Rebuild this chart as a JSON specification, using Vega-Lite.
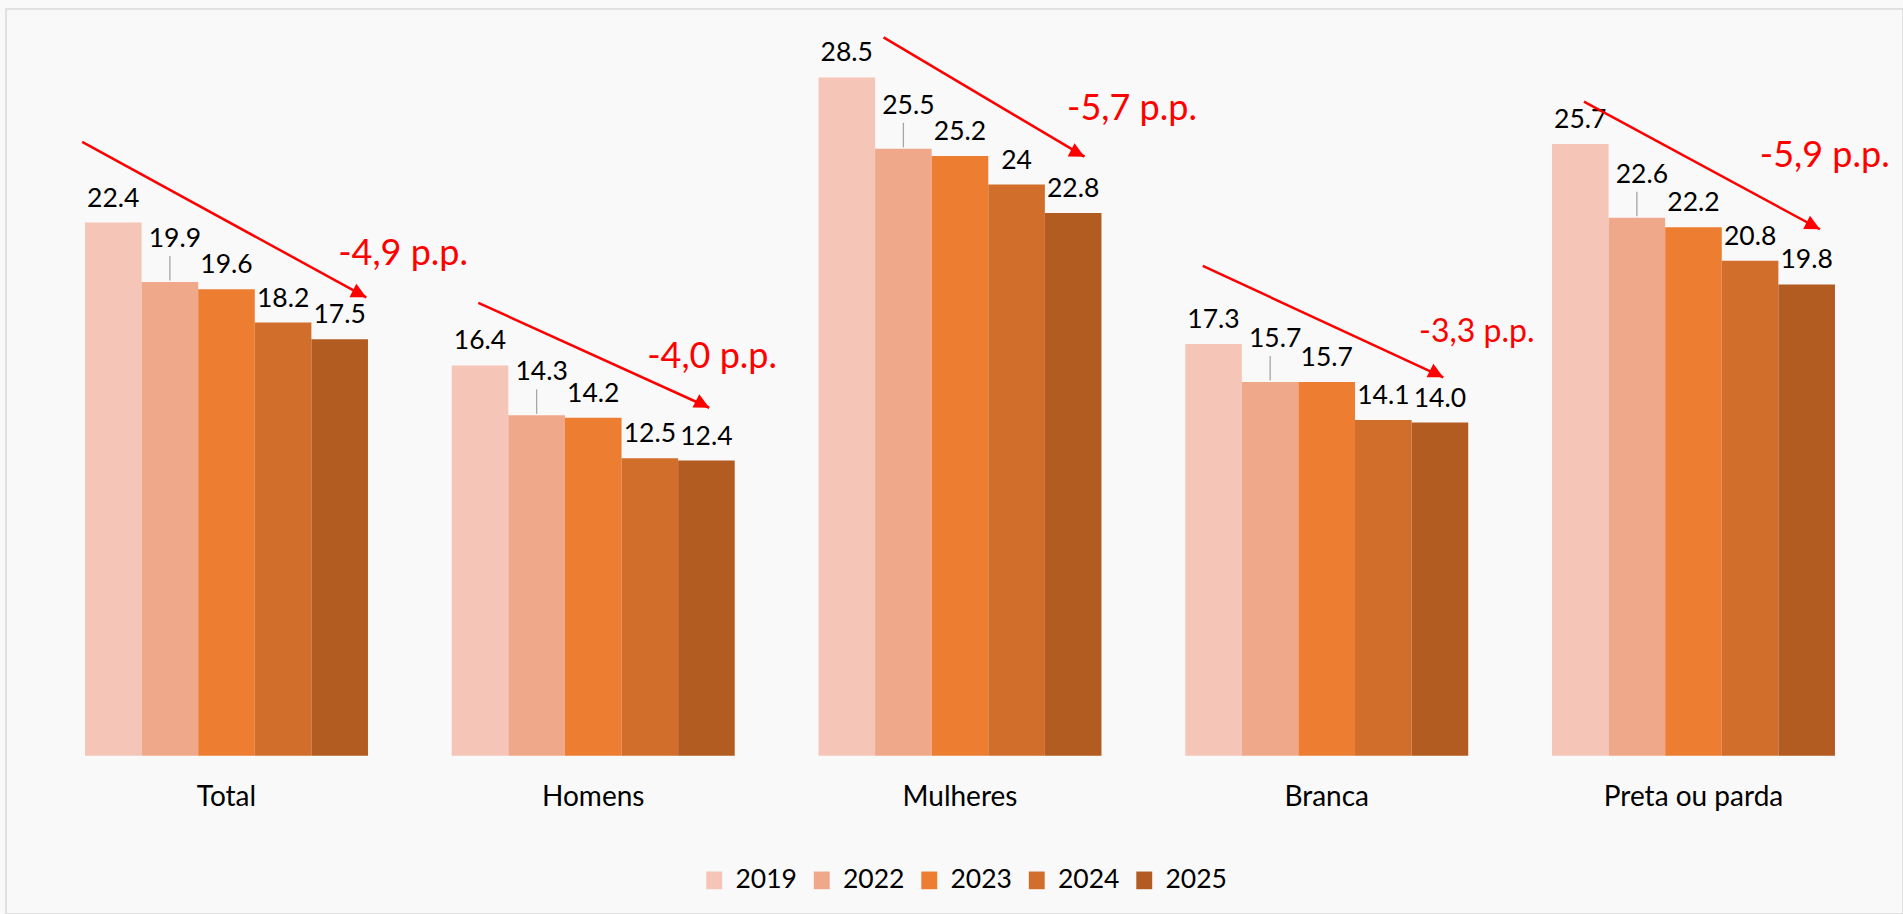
{
  "$schema": "https://vega.github.io/schema/vega-lite/v6.json",
  "width": 1897,
  "height": 905,
  "autosize": {"type": "none"},
  "padding": {"left": 6, "top": 9, "right": 0, "bottom": 0},
  "background": "#f9f9f9",
  "config": {
    "view": {"stroke": "#d9d9d9", "strokeWidth": 1.5},
    "font": "Lato",
    "text": {"font": "Lato"},
    "axis": {"labelFont": "Lato"},
    "legend": {"labelFont": "Lato"}
  },
  "datasets": {
    "bars": [
      {"cat": "Total", "year": "2019", "value": 22.4, "label": "22.4"},
      {"cat": "Total", "year": "2022", "value": 19.9, "label": "19.9"},
      {"cat": "Total", "year": "2023", "value": 19.6, "label": "19.6"},
      {"cat": "Total", "year": "2024", "value": 18.2, "label": "18.2"},
      {"cat": "Total", "year": "2025", "value": 17.5, "label": "17.5"},
      {"cat": "Homens", "year": "2019", "value": 16.4, "label": "16.4"},
      {"cat": "Homens", "year": "2022", "value": 14.3, "label": "14.3"},
      {"cat": "Homens", "year": "2023", "value": 14.2, "label": "14.2"},
      {"cat": "Homens", "year": "2024", "value": 12.5, "label": "12.5"},
      {"cat": "Homens", "year": "2025", "value": 12.4, "label": "12.4"},
      {"cat": "Mulheres", "year": "2019", "value": 28.5, "label": "28.5"},
      {"cat": "Mulheres", "year": "2022", "value": 25.5, "label": "25.5"},
      {"cat": "Mulheres", "year": "2023", "value": 25.2, "label": "25.2"},
      {"cat": "Mulheres", "year": "2024", "value": 24.0, "label": "24"},
      {"cat": "Mulheres", "year": "2025", "value": 22.8, "label": "22.8"},
      {"cat": "Branca", "year": "2019", "value": 17.3, "label": "17.3"},
      {"cat": "Branca", "year": "2022", "value": 15.7, "label": "15.7"},
      {"cat": "Branca", "year": "2023", "value": 15.7, "label": "15.7"},
      {"cat": "Branca", "year": "2024", "value": 14.1, "label": "14.1"},
      {"cat": "Branca", "year": "2025", "value": 14.0, "label": "14.0"},
      {"cat": "Preta ou parda", "year": "2019", "value": 25.7, "label": "25.7"},
      {"cat": "Preta ou parda", "year": "2022", "value": 22.6, "label": "22.6"},
      {"cat": "Preta ou parda", "year": "2023", "value": 22.2, "label": "22.2"},
      {"cat": "Preta ou parda", "year": "2024", "value": 20.8, "label": "20.8"},
      {"cat": "Preta ou parda", "year": "2025", "value": 19.8, "label": "19.8"}
    ],
    "arrows": [
      {"cat": "Total", "pt": "start", "pos": -0.05, "val": 25.79},
      {"cat": "Total", "pt": "end", "pos": 4.97, "val": 19.26},
      {"cat": "Homens", "pt": "start", "pos": 0.47, "val": 19.03},
      {"cat": "Homens", "pt": "end", "pos": 4.55, "val": 14.62},
      {"cat": "Mulheres", "pt": "start", "pos": 1.15, "val": 30.18},
      {"cat": "Mulheres", "pt": "end", "pos": 4.70, "val": 25.17},
      {"cat": "Branca", "pt": "start", "pos": 0.31, "val": 20.58},
      {"cat": "Branca", "pt": "end", "pos": 4.56, "val": 15.90},
      {"cat": "Preta ou parda", "pt": "start", "pos": 0.565, "val": 27.48},
      {"cat": "Preta ou parda", "pt": "end", "pos": 4.735, "val": 22.12}
    ],
    "notes": [
      {"cat": "Total", "pos": 5.62, "val": 20.62, "note": "-4,9 p.p."},
      {"cat": "Homens", "pos": 4.60, "val": 16.28, "note": "-4,0 p.p."},
      {"cat": "Mulheres", "pos": 5.54, "val": 26.71, "note": "-5,7 p.p."},
      {"cat": "Branca", "pos": 5.15, "val": 17.39, "note": "-3,3 p.p."},
      {"cat": "Preta ou parda", "pos": 4.82, "val": 24.72, "note": "-5,9 p.p."}
    ]
  },
  "resolve": {"scale": {"xOffset": "independent"}},
  "layer": [
    {
      "data": {"name": "bars"},
      "mark": {"type": "bar"},
      "encoding": {
        "x": {
          "field": "cat", "type": "nominal",
          "scale": {"domain": ["Total", "Homens", "Mulheres", "Branca", "Preta ou parda"], "paddingInner": 0.2284, "paddingOuter": 0.20045, "align": 0.5373, "round": false},
          "axis": {"title": null, "orient": "bottom", "offset": -158.3, "ticks": false, "tickSize": 0, "domain": false, "grid": false, "labelAngle": 0, "labelFontSize": 28, "labelColor": "#000000", "labelPadding": 49.3, "labelBaseline": "alphabetic"}
        },
        "xOffset": {"field": "year", "type": "nominal", "scale": {"type": "band", "domain": ["2019", "2022", "2023", "2024", "2025"], "paddingInner": 0, "paddingOuter": 0}},
        "y": {"field": "value", "type": "quantitative", "stack": null, "scale": {"domain": [-6.651, 31.374], "nice": false, "zero": false}, "axis": null},
        "color": {
          "field": "year", "type": "nominal",
          "scale": {"domain": ["2019", "2022", "2023", "2024", "2025"], "range": ["#F5C6B7", "#F0A88A", "#ED7D31", "#D26E2B", "#B25C22"]},
          "legend": {"title": null, "orient": "none", "legendX": 695, "legendY": 858, "direction": "horizontal", "symbolType": "M-0.9,-1H0.9V1H-0.9Z", "symbolSize": 313, "symbolStrokeWidth": 0, "symbolOpacity": 1, "labelFontSize": 26.5, "labelColor": "#000000", "labelOffset": 8, "columnPadding": 11.5, "padding": 0}
        }
      }
    },
    {
      "data": {"name": "bars"},
      "transform": [{"filter": "datum.year != '2022'"}],
      "mark": {"type": "text", "dy": -16, "baseline": "alphabetic", "align": "center", "fontSize": 26.5, "color": "#000000"},
      "encoding": {
        "x": {"field": "cat", "type": "nominal"},
        "xOffset": {"field": "year", "type": "nominal", "scale": {"type": "band", "domain": ["2019", "2022", "2023", "2024", "2025"], "paddingInner": 0, "paddingOuter": 0}},
        "y": {"field": "value", "type": "quantitative", "axis": null},
        "text": {"field": "label"}
      }
    },
    {
      "data": {"name": "bars"},
      "transform": [{"filter": "datum.year == '2022'"}],
      "mark": {"type": "text", "dy": -35, "dx": 5, "baseline": "alphabetic", "align": "center", "fontSize": 26.5, "color": "#000000"},
      "encoding": {
        "x": {"field": "cat", "type": "nominal"},
        "xOffset": {"field": "year", "type": "nominal", "scale": {"type": "band", "domain": ["2019", "2022", "2023", "2024", "2025"], "paddingInner": 0, "paddingOuter": 0}},
        "y": {"field": "value", "type": "quantitative", "axis": null},
        "text": {"field": "label"}
      }
    },
    {
      "data": {"name": "bars"},
      "transform": [{"filter": "datum.year == '2022'"}],
      "mark": {"type": "rule", "color": "#a6a6a6", "strokeWidth": 1.3, "yOffset": -26, "y2Offset": -1.5},
      "encoding": {
        "x": {"field": "cat", "type": "nominal"},
        "xOffset": {"field": "year", "type": "nominal", "scale": {"type": "band", "domain": ["2019", "2022", "2023", "2024", "2025"], "paddingInner": 0, "paddingOuter": 0}},
        "y": {"field": "value", "type": "quantitative", "axis": null},
        "y2": {"field": "value"}
      }
    },
    {
      "data": {"name": "arrows"},
      "mark": {"type": "line", "color": "#ff0000", "strokeWidth": 2.5, "clip": false},
      "encoding": {
        "x": {"field": "cat", "type": "nominal"},
        "xOffset": {"field": "pos", "type": "quantitative", "scale": {"domain": [0, 5], "nice": false, "zero": false}},
        "y": {"field": "val", "type": "quantitative", "axis": null},
        "detail": {"field": "cat"},
        "order": {"field": "pos", "type": "quantitative"}
      }
    },
    {
      "data": {"name": "arrows"},
      "transform": [{"filter": "datum.pt == 'end'"}],
      "mark": {"type": "point", "filled": true, "opacity": 1, "color": "#ff0000", "shape": "M0,0L-1,-0.5L-1,0.5Z", "size": 900, "angle": 27},
      "encoding": {
        "x": {"field": "cat", "type": "nominal"},
        "xOffset": {"field": "pos", "type": "quantitative", "scale": {"domain": [0, 5], "nice": false, "zero": false}},
        "y": {"field": "val", "type": "quantitative", "axis": null}
      }
    },
    {
      "data": {"name": "notes"},
      "mark": {"type": "text", "baseline": "alphabetic", "align": "center", "color": "#ff0000"},
      "encoding": {
        "x": {"field": "cat", "type": "nominal"},
        "xOffset": {"field": "pos", "type": "quantitative", "scale": {"domain": [0, 5], "nice": false, "zero": false}},
        "y": {"field": "val", "type": "quantitative", "axis": null},
        "text": {"field": "note"},
        "size": {"condition": {"test": "datum.cat == 'Branca'", "value": 32}, "value": 36}
      }
    }
  ]
}
